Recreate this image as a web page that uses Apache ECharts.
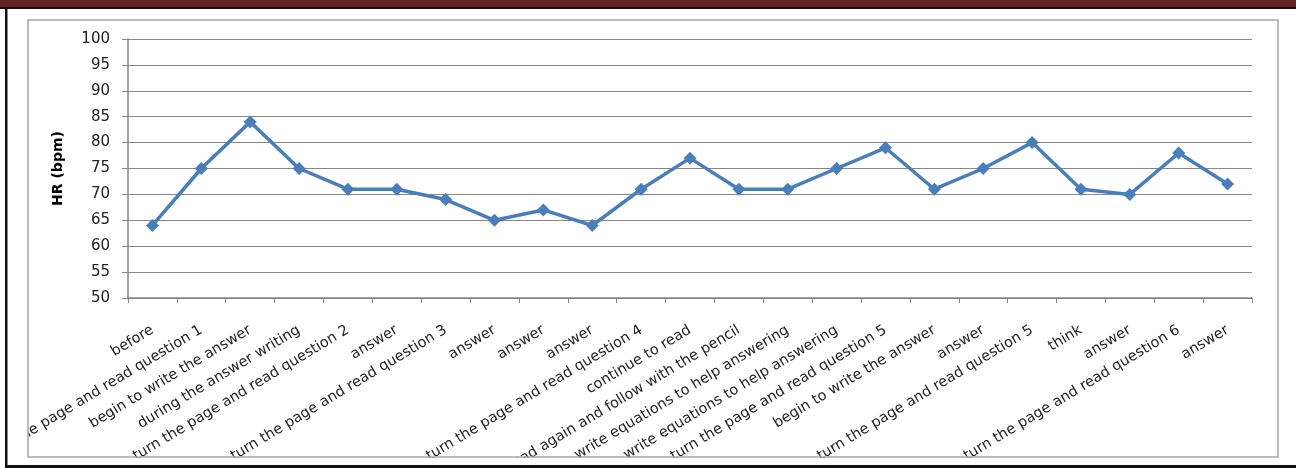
<!DOCTYPE html>
<html>
<head>
<meta charset="utf-8">
<script src="https://cdn.jsdelivr.net/npm/echarts@6/dist/echarts.min.js"></script>
<style>
html,body{margin:0;padding:0;background:#fff;}
#c{width:1296px;height:468px;}
</style>
</head>
<body>
<div id="c"></div>
<script>
const categories = [
  "before",
  "turn the page and read question 1",
  "begin to write the answer",
  "during the answer writing",
  "turn the page and read question 2",
  "answer",
  "turn the page and read question 3",
  "answer",
  "answer",
  "answer",
  "turn the page and read question 4",
  "continue to read",
  "read again and follow with the pencil",
  "write equations to help answering",
  "write equations to help answering",
  "turn the page and read question 5",
  "begin to write the answer",
  "answer",
  "turn the page and read question 5",
  "think",
  "answer",
  "turn the page and read question 6",
  "answer"
];
const hrValues = [64, 75, 84, 75, 71, 71, 69, 65, 67, 64, 71, 77, 71, 71, 75, 79, 71, 75, 80, 71, 70, 78, 72];
const yTitle = "HR (bpm)";
const yMin = 50, yMax = 100, yStep = 5;

const chart = echarts.init(document.getElementById('c'), null, {renderer: 'canvas'});
chart.setOption({
  animation: false,
  backgroundColor: '#ffffff',
  grid: {left: 128, top: 39, right: 44, bottom: 170, containLabel: false, outerBoundsMode: 'none'},
  xAxis: {
    type: 'category',
    data: categories,
    boundaryGap: true,
    axisLine: {lineStyle: {color: '#868686', width: 1.5}},
    axisTick: {show: true, alignWithLabel: false, length: 5, lineStyle: {color: '#868686'}},
    axisLabel: {
      interval: 0,
      rotate: 31,
      margin: 31,
      color: '#222',
      fontFamily: 'DejaVu Sans',
      fontSize: 14.5
    },
    splitLine: {show: false}
  },
  yAxis: {
    type: 'value',
    min: yMin, max: yMax, interval: yStep,
    name: yTitle,
    nameLocation: 'middle',
    nameGap: 63,
    nameRotate: 90,
    nameTextStyle: {fontFamily: 'DejaVu Sans', fontWeight: 'bold', fontSize: 14, color: '#000'},
    axisLine: {show: true, lineStyle: {color: '#868686', width: 1.5}},
    axisTick: {show: true, length: 6, lineStyle: {color: '#868686'}},
    axisLabel: {margin: 18, color: '#222', fontFamily: 'DejaVu Sans', fontSize: 15},
    splitLine: {show: true, lineStyle: {color: '#878787', width: 1.2}}
  },
  series: [{
    type: 'line',
    data: hrValues,
    symbol: 'diamond',
    symbolSize: 13,
    lineStyle: {color: '#4A7EBB', width: 3.5},
    itemStyle: {color: '#4A7EBB'},
    z: 5
  }],
  graphic: [
    {type: 'rect', z: 100, shape: {x: 0, y: 9, width: 28, height: 459}, style: {fill: '#fff'}},
    {type: 'rect', z: 100, shape: {x: 0, y: 458, width: 1296, height: 10}, style: {fill: '#fff'}},
    {type: 'rect', z: 101, shape: {x: 28, y: 20, width: 1250, height: 437}, style: {fill: 'none', stroke: '#a6a6a6', lineWidth: 1.5}},
    {type: 'rect', z: 102, shape: {x: 0, y: 0, width: 1296, height: 7}, style: {fill: '#632523'}},
    {type: 'rect', z: 102, shape: {x: 0, y: 7, width: 1296, height: 2}, style: {fill: '#111'}},
    {type: 'rect', z: 102, shape: {x: 5, y: 7, width: 2.5, height: 461}, style: {fill: '#111'}},
    {type: 'rect', z: 102, shape: {x: 5, y: 465, width: 1291, height: 3}, style: {fill: '#111'}}
  ]
});
</script>
</body>
</html>
